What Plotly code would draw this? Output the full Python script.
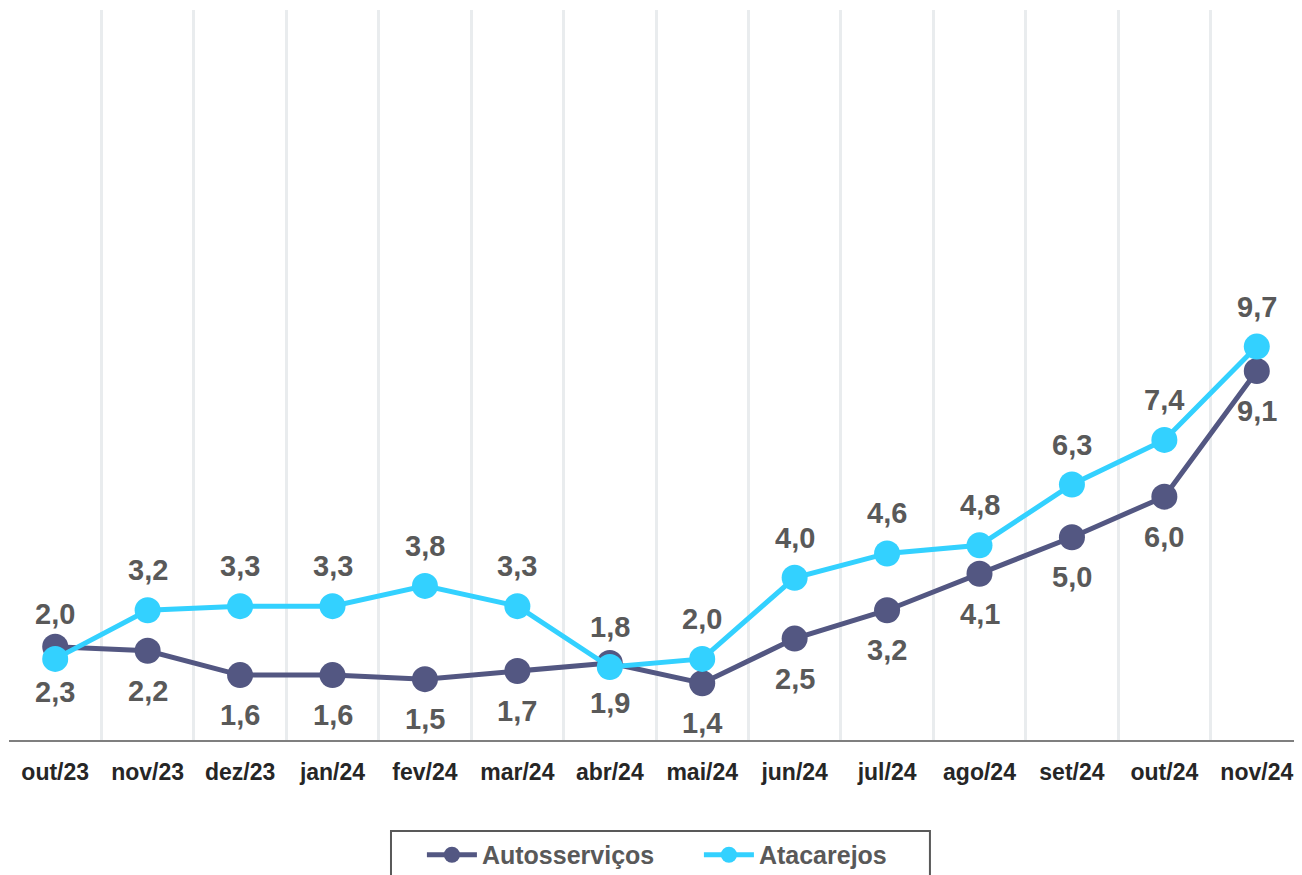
import plotly.graph_objects as go

categories = ["out/23", "nov/23", "dez/23", "jan/24", "fev/24", "mar/24", "abr/24",
              "mai/24", "jun/24", "jul/24", "ago/24", "set/24", "out/24", "nov/24"]
autosservicos = [2.3, 2.2, 1.6, 1.6, 1.5, 1.7, 1.9, 1.4, 2.5, 3.2, 4.1, 5.0, 6.0, 9.1]
atacarejos = [2.0, 3.2, 3.3, 3.3, 3.8, 3.3, 1.8, 2.0, 4.0, 4.6, 4.8, 6.3, 7.4, 9.7]

DARK = "#535782"
CYAN = "#33D1FF"
LABEL = "#595959"
FONT = "Liberation Sans, Arial"

fig = go.Figure()
fig.add_trace(go.Scatter(
    x=categories, y=autosservicos, name="Autosserviços", mode="lines+markers",
    line=dict(color=DARK, width=5), marker=dict(color=DARK, size=26),
))
fig.add_trace(go.Scatter(
    x=categories, y=atacarejos, name="Atacarejos", mode="lines+markers",
    line=dict(color=CYAN, width=5), marker=dict(color=CYAN, size=26),
))

def fmt(v):
    return f"{v:.1f}".replace(".", ",")

annotations = []
for i, (c, v) in enumerate(zip(categories, autosservicos)):
    annotations.append(dict(x=c, y=v, text=fmt(v), showarrow=False,
                            yshift=-45 if i == 0 else -40,
                            font=dict(family=FONT, size=29, color=LABEL, weight="bold"),
                            xref="x", yref="y"))
for i, (c, v) in enumerate(zip(categories, atacarejos)):
    annotations.append(dict(x=c, y=v, text=fmt(v), showarrow=False,
                            yshift=45 if i == 0 else 40,
                            font=dict(family=FONT, size=29, color=LABEL, weight="bold"),
                            xref="x", yref="y"))

fig.update_layout(
    width=1302, height=875,
    margin=dict(l=1, r=7, t=2, b=143),
    paper_bgcolor="white", plot_bgcolor="white",
    font=dict(family=FONT, color=LABEL),
    annotations=annotations,
    showlegend=True,
    legend=dict(
        orientation="h", x=0.3191, xanchor="left", y=-0.126, yanchor="top",
        borderwidth=0, bgcolor="rgba(0,0,0,0)",
        font=dict(family=FONT, size=25, color=LABEL, weight="bold"),
        itemwidth=50, entrywidth=212,
    ),
    shapes=[dict(type="rect", xref="paper", yref="paper",
                 x0=0.2952, x1=0.7117, y0=-0.1247, y1=-0.21,
                 line=dict(color="#595959", width=2), fillcolor="rgba(0,0,0,0)")],
    xaxis=dict(
        type="category", range=[-0.5, 13.5], tickson="boundaries",
        showgrid=True, gridcolor="#E9ECEE", gridwidth=3,
        showline=True, linecolor="#7F7F7F", linewidth=2,
        ticks="", tickfont=dict(family=FONT, size=23, color="#262626", weight="bold"),
        ticklabelstandoff=10,
    ),
    yaxis=dict(range=[0, 18], showgrid=False, zeroline=False, showticklabels=False, showline=False),
)

fig.write_html("out.html")
